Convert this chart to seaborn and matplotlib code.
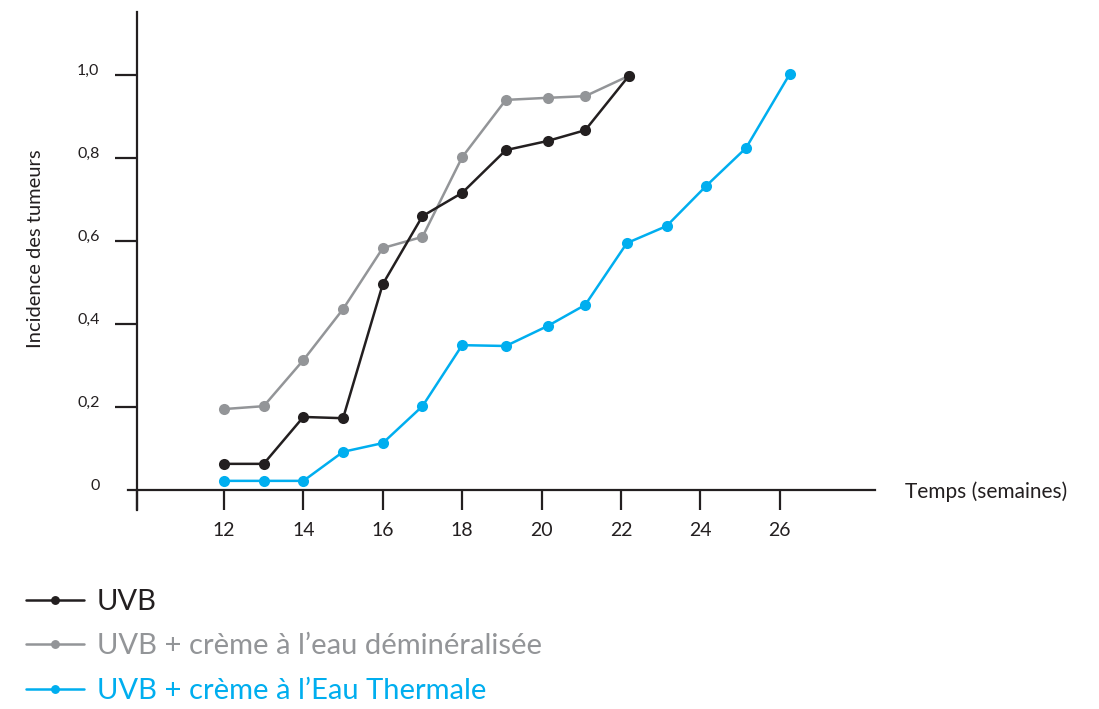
import matplotlib
matplotlib.use("Agg")
import matplotlib.pyplot as plt
import seaborn as sns

# semaines (légèrement décalées comme dans l'original)
weeks_uvb = [12, 13, 14, 15, 16, 17, 18, 19.1, 20.15, 21.1, 22.2]
uvb = [0.063, 0.063, 0.176, 0.173, 0.496, 0.66, 0.716, 0.819, 0.841, 0.867, 0.998]

weeks_demin = [12, 13, 14, 15, 16, 17, 18, 19.1, 20.15, 21.1, 22.2]
demin = [0.195, 0.202, 0.313, 0.436, 0.583, 0.61, 0.802, 0.94, 0.945, 0.949, 0.998]

weeks_thermale = [12, 13, 14, 15, 16, 17, 18, 19.1, 20.15, 21.1, 22.15, 23.15, 24.15, 25.15, 26.25]
thermale = [0.022, 0.022, 0.022, 0.092, 0.113, 0.202, 0.349, 0.347, 0.395, 0.446,
            0.595, 0.636, 0.733, 0.824, 1.002]

labels = ["UVB", "UVB + crème à l\u2019eau déminéralisée", "UVB + crème à l\u2019Eau Thermale"]
colors = ["#231f20", "#939598", "#00aeef"]
zorders = [4, 3, 3]

x_ticks = [9.81, 12, 14, 16, 18, 20, 22, 24, 26]
x_ticklabels = ["", "12", "14", "16", "18", "20", "22", "24", "26"]
y_ticks = [0, 0.2, 0.4, 0.6, 0.8, 1.0]
y_ticklabels = ["0", "0,2", "0,4", "0,6", "0,8", "1,0"]

sns.set_style("white")
plt.rcParams["font.family"] = ["Lato", "DejaVu Sans"]
dark = "#231f20"

fig = plt.figure(figsize=(10.99, 7.09), dpi=100)
ax = fig.add_axes([128 / 1099, 1 - 510 / 709, 747 / 1099, 498 / 709])

series = [(weeks_uvb, uvb), (weeks_demin, demin), (weeks_thermale, thermale)]
for (xs, ys), lab, col, zo in zip(series, labels, colors, zorders):
    sns.lineplot(x=xs, y=ys, ax=ax, color=col, label=lab, marker="o",
                 markersize=8, markeredgewidth=0, linewidth=1.8, zorder=zo)

ax.set_xlim(9.582, 28.40)
ax.set_ylim(-0.0482, 1.1518)

for side in ["top", "right"]:
    ax.spines[side].set_visible(False)
ax.spines["left"].set_position(("data", 9.81))
ax.spines["bottom"].set_position(("data", 0))
for side in ["left", "bottom"]:
    ax.spines[side].set_color(dark)
    ax.spines[side].set_linewidth(1.6)

ax.set_xticks(x_ticks)
ax.set_xticklabels(x_ticklabels)
ax.set_yticks(y_ticks)
ax.set_yticklabels(y_ticklabels)
ax.tick_params(axis="x", direction="out", length=14.4, width=1.6, color=dark,
               labelsize=14, labelcolor=dark, pad=9, bottom=True)
ax.tick_params(axis="y", direction="out", length=16, width=1.6, color=dark,
               labelsize=11.5, labelcolor=dark, pad=11, left=True)
ax.yaxis.get_major_ticks()[0].tick1line.set_visible(False)
for lab in ax.get_yticklabels():
    lab.set_verticalalignment("baseline")

ax.set_xlabel("")
ax.set_ylabel("Incidence des tumeurs", fontsize=14.5, color=dark)
ax.yaxis.set_label_coords(-0.112, 0.524)
ax.text(1.040, 0.036, "Temps (semaines)", transform=ax.transAxes,
        ha="left", va="center", fontsize=15, color=dark)

leg = ax.legend(loc="upper left", bbox_to_anchor=(26 / 1099, 1 - 589 / 709),
                bbox_transform=fig.transFigure, frameon=False, fontsize=21,
                labelcolor="linecolor", handlelength=2.0, handletextpad=0.42,
                markerscale=0.8, labelspacing=0.63, borderpad=0, borderaxespad=0)

fig.savefig("out.png", dpi=100)
